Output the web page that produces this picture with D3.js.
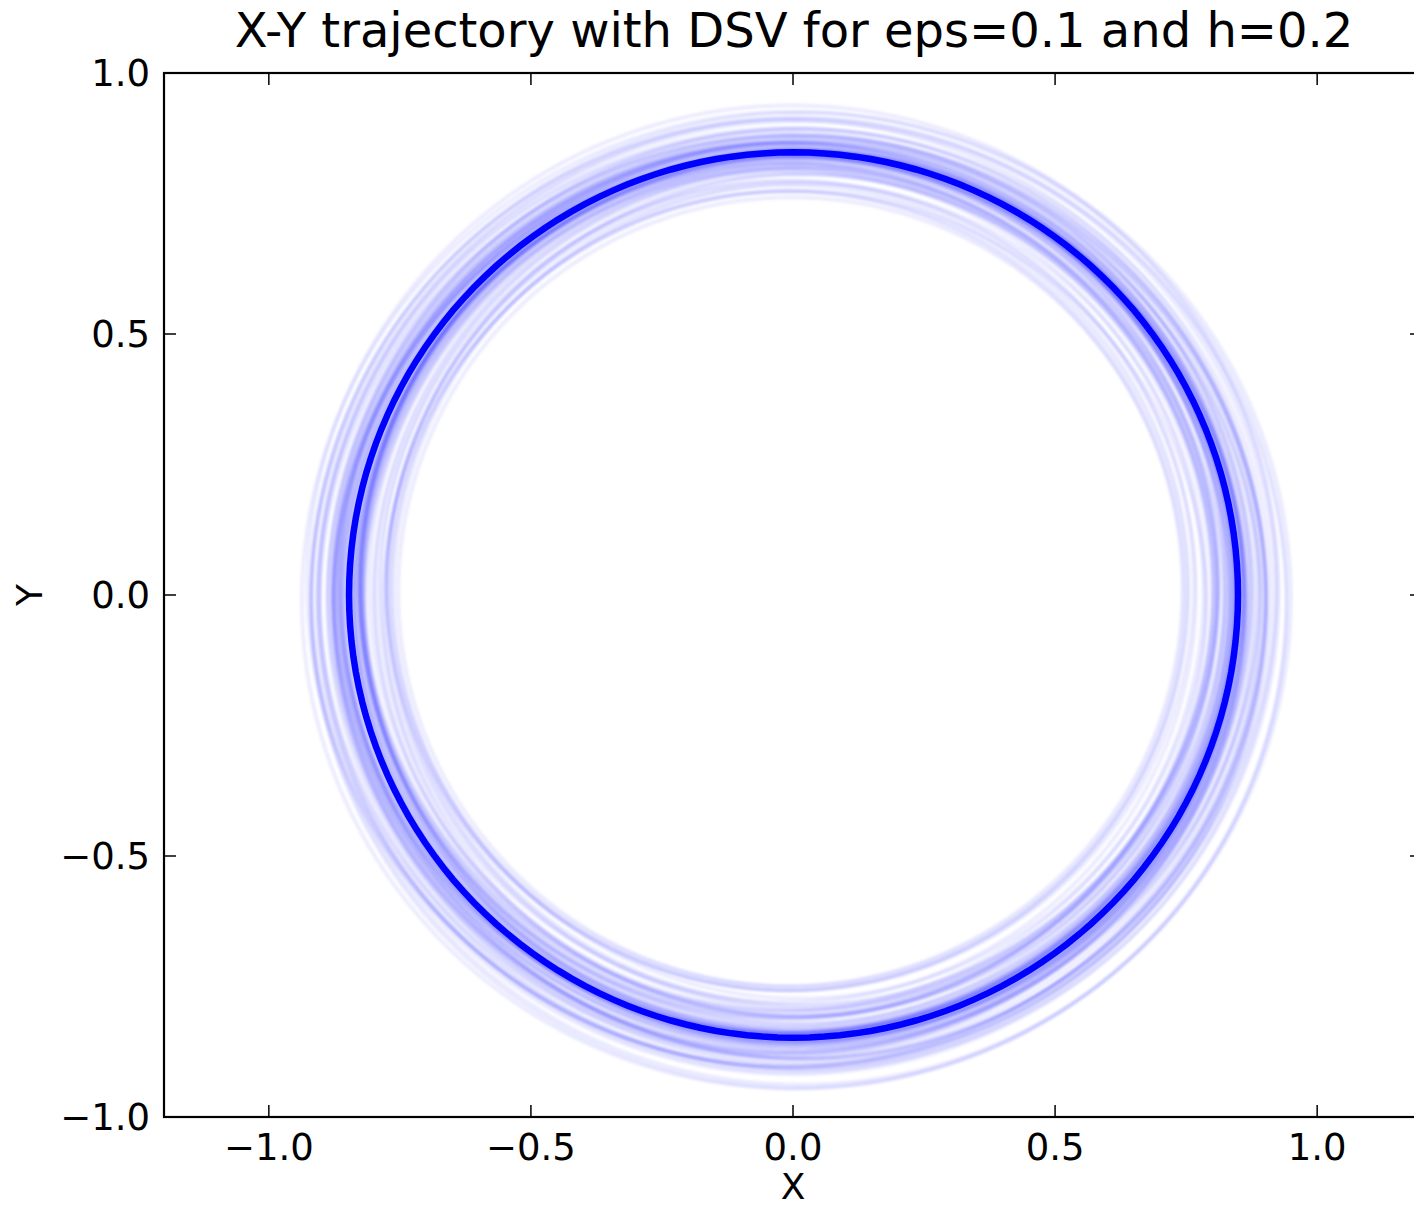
<!DOCTYPE html>
<html>
<head>
<meta charset="utf-8">
<script src="https://cdn.jsdelivr.net/npm/d3@7"></script>
<style>
  html, body { margin: 0; padding: 0; background: #fff; }
  svg { display: block; font-family: "DejaVu Sans", sans-serif; }
</style>
</head>
<body>
<svg id="chart" width="1414" height="1208"></svg>
<script>
// Plot text
const titleText = "X-Y trajectory with DSV for eps=0.1 and h=0.2";
const xLabel = "X";
const yLabel = "Y";

// Axis ticks
const xTicks = [-1.0, -0.5, 0.0, 0.5, 1.0];
const yTicks = [-1.0, -0.5, 0.0, 0.5, 1.0];

// Mean trajectory: near-circular orbit
const meanRadius = 0.848;
const meanCenter = [0.001, 0.0];

// Individual sampled trajectories: orbit half-width, half-height and centre offsets
const trajRx = [
  0.848,0.852,0.844,0.856,0.840,0.860,0.836,0.864,0.850,0.846,
  0.830,0.870,0.826,0.874,0.842,0.858,0.820,0.880,0.834,0.866,
  0.815,0.885,0.850,0.838,0.862,0.810,0.890,0.845,0.855,0.828,
  0.872,0.805,0.895,0.840,0.860,0.800,0.900,0.832,0.868,0.795,
  0.905,0.848,0.824,0.876,0.790,0.910,0.843,0.857,0.785,0.915,
  0.818,0.882,0.780,0.920,0.836,0.864,0.775,0.925,0.851,0.812,
  0.888,0.770,0.930,0.845,0.803,0.897,0.765,0.935,0.826,0.874,
  0.760,0.940,0.849,0.798,0.902,0.755,0.853,0.816,0.884,0.750];
const trajRy = [
  0.850,0.849,0.846,0.853,0.843,0.858,0.839,0.861,0.853,0.844,
  0.834,0.866,0.829,0.871,0.845,0.855,0.824,0.877,0.831,0.869,
  0.819,0.881,0.847,0.841,0.859,0.814,0.886,0.848,0.852,0.832,
  0.868,0.809,0.891,0.843,0.857,0.805,0.896,0.836,0.864,0.800,
  0.901,0.851,0.828,0.872,0.795,0.906,0.846,0.854,0.790,0.912,
  0.822,0.878,0.786,0.916,0.839,0.861,0.781,0.921,0.848,0.816,
  0.884,0.776,0.926,0.848,0.808,0.893,0.771,0.931,0.830,0.870,
  0.766,0.936,0.852,0.803,0.898,0.761,0.850,0.820,0.880,0.756];
const trajCx = [
  0.000,0.004,-0.003,0.006,-0.005,0.002,0.008,-0.007,0.001,-0.002,
  0.010,-0.009,0.005,-0.004,0.012,-0.011,0.003,-0.006,0.009,-0.001,
  -0.013,0.007,0.014,-0.008,0.002,0.011,-0.015,0.004,-0.010,0.006,
  0.016,-0.003,-0.012,0.008,0.000,-0.017,0.013,0.005,-0.007,0.018,
  -0.004,0.010,-0.014,0.002,0.015,-0.009,0.007,-0.018,0.003,0.012,
  -0.006,0.019,-0.011,0.001,0.009,-0.016,0.014,-0.002,0.006,-0.013,
  0.017,-0.005,0.011,-0.019,0.004,0.008,-0.010,0.015,-0.001,0.020,
  -0.008,0.003,-0.015,0.012,0.000,-0.012,0.016,-0.006,0.007,-0.003];
const trajCy = [
  0.002,-0.003,0.005,-0.001,0.004,-0.006,0.001,0.007,-0.004,0.003,
  -0.008,0.006,0.009,-0.005,-0.002,0.010,-0.009,0.004,0.000,-0.011,
  0.008,0.012,-0.007,0.003,-0.012,0.006,0.002,-0.010,0.011,-0.004,
  0.005,0.013,-0.013,0.001,-0.008,0.009,-0.003,0.014,-0.014,0.007,
  -0.006,0.015,0.000,-0.015,0.010,0.004,-0.011,0.012,-0.016,0.002,
  0.016,-0.009,0.006,-0.002,0.013,-0.017,0.008,0.017,-0.012,0.003,
  -0.005,0.018,-0.018,0.011,0.001,-0.013,0.014,-0.007,0.019,-0.019,
  0.009,-0.010,0.004,0.015,-0.016,0.012,-0.004,0.020,-0.014,0.006];

const svg = d3.select("#chart");
const x = d3.scaleLinear().domain([-1.2, 1.2]).range([164, 1422]);
const y = d3.scaleLinear().domain([-1.0, 1.0]).range([1117, 73]);

const defs = svg.append("defs");
defs.append("clipPath").attr("id", "plot-clip")
  .append("rect").attr("x", 164).attr("y", 73).attr("width", 1258).attr("height", 1044);
defs.append("filter").attr("id", "soft").attr("x", "-10%").attr("y", "-10%")
  .attr("width", "120%").attr("height", "120%")
  .append("feGaussianBlur").attr("stdDeviation", 1.3);

// angular samples along each orbit
const angles = d3.range(0, 361, 2).map(d => d * Math.PI / 180);
const orbit = (cx, cy, rx, ry) => angles.map(t => [cx + rx * Math.cos(t), cy + ry * Math.sin(t)]);
const line = d3.line().x(d => x(d[0])).y(d => y(d[1])).curve(d3.curveLinearClosed);

const plot = svg.append("g").attr("clip-path", "url(#plot-clip)");

plot.append("g").attr("filter", "url(#soft)")
  .selectAll("path.traj")
  .data(d3.range(trajRx.length))
  .join("path")
  .attr("class", "traj")
  .attr("d", i => line(orbit(trajCx[i], trajCy[i], trajRx[i], trajRy[i])))
  .attr("fill", "none")
  .attr("stroke", "#0000ff")
  .attr("stroke-opacity", 0.075)
  .attr("stroke-width", 4);

plot.append("path")
  .attr("d", line(orbit(meanCenter[0], meanCenter[1], meanRadius, meanRadius)))
  .attr("fill", "none")
  .attr("stroke", "#0000ff")
  .attr("stroke-width", 6.5);

// Frame
svg.append("rect")
  .attr("x", 164).attr("y", 73).attr("width", 1258).attr("height", 1044)
  .attr("fill", "none").attr("stroke", "#000").attr("stroke-width", 2.2);

// Inward ticks on all four sides
const tl = 12;
const tickG = svg.append("g").attr("stroke", "#000").attr("stroke-width", 1.5);
xTicks.forEach(v => {
  tickG.append("line").attr("x1", x(v)).attr("x2", x(v)).attr("y1", 1117).attr("y2", 1117 - tl);
  tickG.append("line").attr("x1", x(v)).attr("x2", x(v)).attr("y1", 73).attr("y2", 73 + tl);
});
yTicks.forEach(v => {
  tickG.append("line").attr("x1", 164).attr("x2", 164 + tl).attr("y1", y(v)).attr("y2", y(v));
  tickG.append("line").attr("x1", 1422).attr("x2", 1422 - tl).attr("y1", y(v)).attr("y2", y(v));
});

const fmt = v => (v < 0 ? "\u2212" : "") + Math.abs(v).toFixed(1);
const fs = 37;
svg.append("g").selectAll("text").data(xTicks).join("text")
  .attr("x", d => x(d)).attr("y", 1160)
  .attr("text-anchor", "middle").attr("font-size", fs).attr("fill", "#000")
  .text(fmt);
svg.append("g").selectAll("text").data(yTicks).join("text")
  .attr("x", 150).attr("y", d => y(d)).attr("dy", "0.36em")
  .attr("text-anchor", "end").attr("font-size", fs).attr("fill", "#000")
  .text(fmt);

svg.append("text").attr("x", 793).attr("y", 1199)
  .attr("text-anchor", "middle").attr("font-size", 36).text(xLabel);
svg.append("text").attr("transform", "translate(42,595) rotate(-90)")
  .attr("text-anchor", "middle").attr("font-size", 36).text(yLabel);

svg.append("text").attr("x", 794).attr("y", 47)
  .attr("text-anchor", "middle").attr("font-size", 48).text(titleText);
</script>
</body>
</html>
